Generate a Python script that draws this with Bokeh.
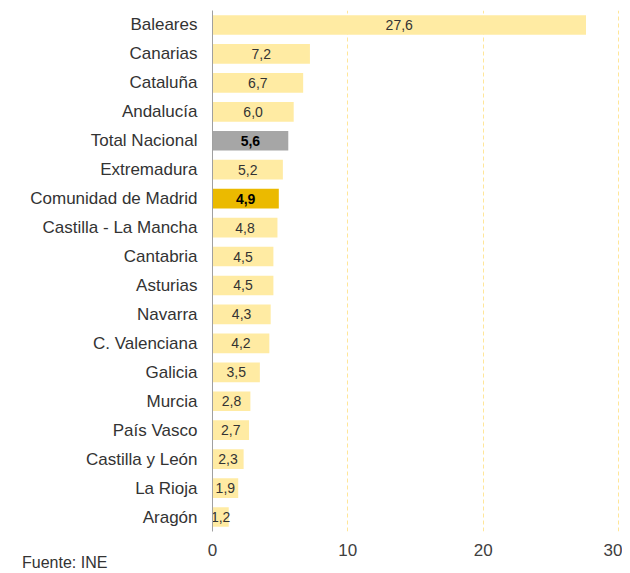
from bokeh.plotting import figure
from bokeh.models import ColumnDataSource, FactorRange, Range1d, FixedTicker, Div
from bokeh.layouts import column
from bokeh.core.properties import value
from bokeh.embed import file_html
from bokeh.resources import INLINE

regions = ["Baleares", "Canarias", "Cataluña", "Andalucía", "Total Nacional", "Extremadura",
           "Comunidad de Madrid", "Castilla - La Mancha", "Cantabria", "Asturias", "Navarra",
           "C. Valenciana", "Galicia", "Murcia", "País Vasco", "Castilla y León", "La Rioja", "Aragón"]
values = [27.6, 7.2, 6.7, 6.0, 5.6, 5.2, 4.9, 4.8, 4.5, 4.5, 4.3, 4.2, 3.5, 2.8, 2.7, 2.3, 1.9, 1.2]
x_ticks = [0, 10, 20, 30]
source_note = "Fuente: INE"

FONT = "Liberation Sans"
colors = []
fstyles = []
tcolors = []
for r in regions:
    if r == "Total Nacional":
        colors.append("#A6A6A6"); fstyles.append("bold"); tcolors.append("#000000")
    elif r == "Comunidad de Madrid":
        colors.append("#EBBA00"); fstyles.append("bold"); tcolors.append("#000000")
    else:
        colors.append("#FFEBA3"); fstyles.append("normal"); tcolors.append("#333333")

src = ColumnDataSource(dict(
    region=regions, val=values, mid=[v / 2 for v in values],
    lab=[f"{v:.1f}".replace(".", ",") for v in values],
    color=colors, fstyle=fstyles, tcolor=tcolors,
))

p = figure(width=622, height=562, output_backend="svg", toolbar_location=None,
           y_range=FactorRange(*reversed(regions), range_padding=0),
           x_range=Range1d(0, 30.15),
           min_border_left=212, min_border_right=2, min_border_top=10, min_border_bottom=31)
p.outline_line_color = None
p.hbar(y="region", right="val", left=0, height=0.68, color="color", source=src, line_color=None)
p.text(x="mid", y="region", text="lab", text_align="center", text_baseline="middle",
       text_font=value(FONT), text_font_size="14px", text_color="tcolor",
       text_font_style="fstyle", source=src)

p.ygrid.grid_line_color = None
p.xgrid.ticker = FixedTicker(ticks=[10, 20, 30])
p.xgrid.grid_line_color = "#FFE699"
p.xgrid.grid_line_dash = "4 3"
p.xgrid.grid_line_width = 1

p.xaxis.ticker = FixedTicker(ticks=x_ticks)
p.xaxis.axis_line_color = None
p.xaxis.major_tick_line_color = None
p.xaxis.minor_tick_line_color = None
p.xaxis.major_tick_out = 0
p.xaxis.major_label_standoff = 12
p.xaxis.major_label_text_font = FONT
p.xaxis.major_label_text_font_size = "17px"
p.xaxis.major_label_text_color = "#404040"

p.yaxis.axis_line_color = "#A0A0A0"
p.yaxis.major_tick_line_color = None
p.yaxis.major_tick_out = 0
p.yaxis.major_label_standoff = 15
p.yaxis.major_label_text_font = FONT
p.yaxis.major_label_text_font_size = "17px"
p.yaxis.major_label_text_color = "#333333"

note = Div(text=source_note, width=120, height=18, margin=(-8, 0, 0, 22),
           styles={"font-family": FONT, "font-size": "16px", "color": "#333333",
                   "line-height": "18px"})

layout = column(p, note, spacing=0)
open("out.html", "w").write(file_html(layout, INLINE))
